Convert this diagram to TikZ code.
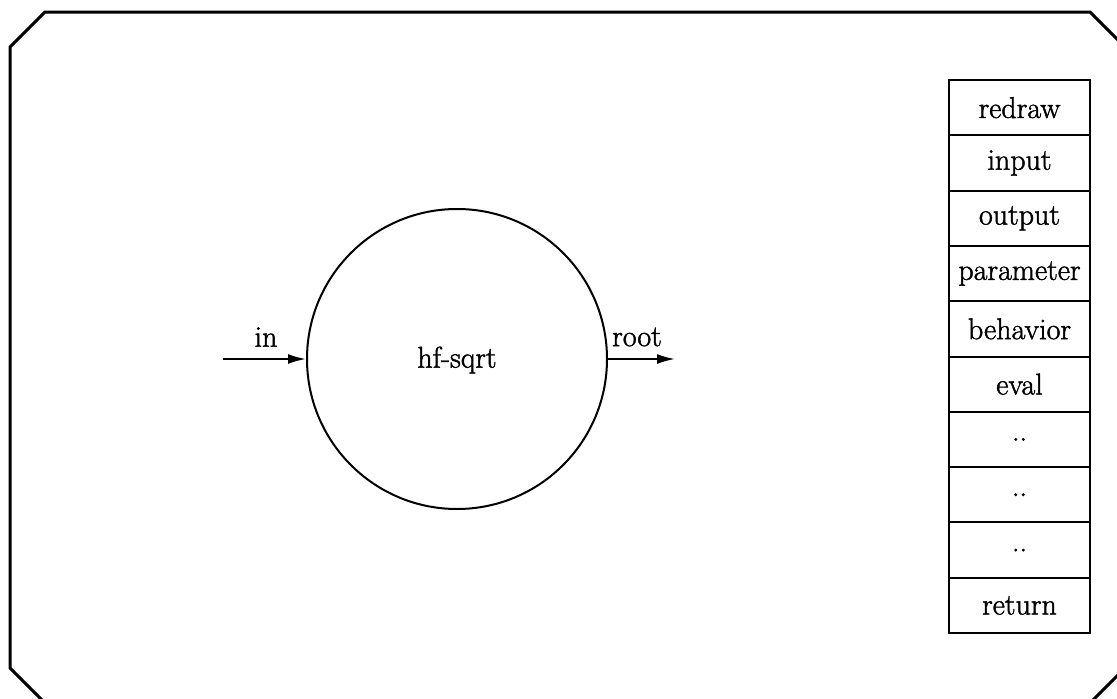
\documentclass[tikz,border=0pt]{standalone}
\usepackage{fontspec}
\newfontfamily\heavy{Latin Modern Roman}[FakeBold=1.5]
\usetikzlibrary{arrows.meta}
\begin{document}
\begin{tikzpicture}[x=1pt,y=-1pt,
  txt/.style={font=\heavy\fontsize{30}{36}\selectfont, inner sep=0pt},
  cell/.style={draw, line width=2pt, minimum width=141pt, minimum height=55.3pt, inner sep=0pt, font=\heavy\fontsize{30}{36}\selectfont},
  arr/.style={line width=2pt, -{Latex[length=18pt,width=10pt]}}]
\useasboundingbox (0,0) rectangle (1117,699);
\clip (0,0) rectangle (1117,699);
% frame
\draw[line width=3pt, line join=miter] (10,47) -- (45,12) -- (1090,12) -- (1125,47) -- (1125,668) -- (1090,703) -- (45,703) -- (10,668) -- cycle;
% circle
\node[draw, circle, line width=2pt, minimum size=300pt, inner sep=0pt] (c) at (457,359) {};
\node[txt] (lab) at (457,360) {hf-sqrt};
\coordinate (inS) at (223,359);
\coordinate (outE) at (675,359);
\draw[arr] (inS) -- (c.west);
\draw[arr] (c.east) -- (outE);
\node[txt] (inl) at (266,337) {in};
\node[txt] (rootl) at (637,337) {root};
% table
\foreach \t [count=\i] in {redraw,input,output,parameter,behavior,eval,..,..,..,return}
  \node[cell] (r\i) at (1019.5, {80+55.3*(\i-0.5)}) {\t};
\end{tikzpicture}
\end{document}
